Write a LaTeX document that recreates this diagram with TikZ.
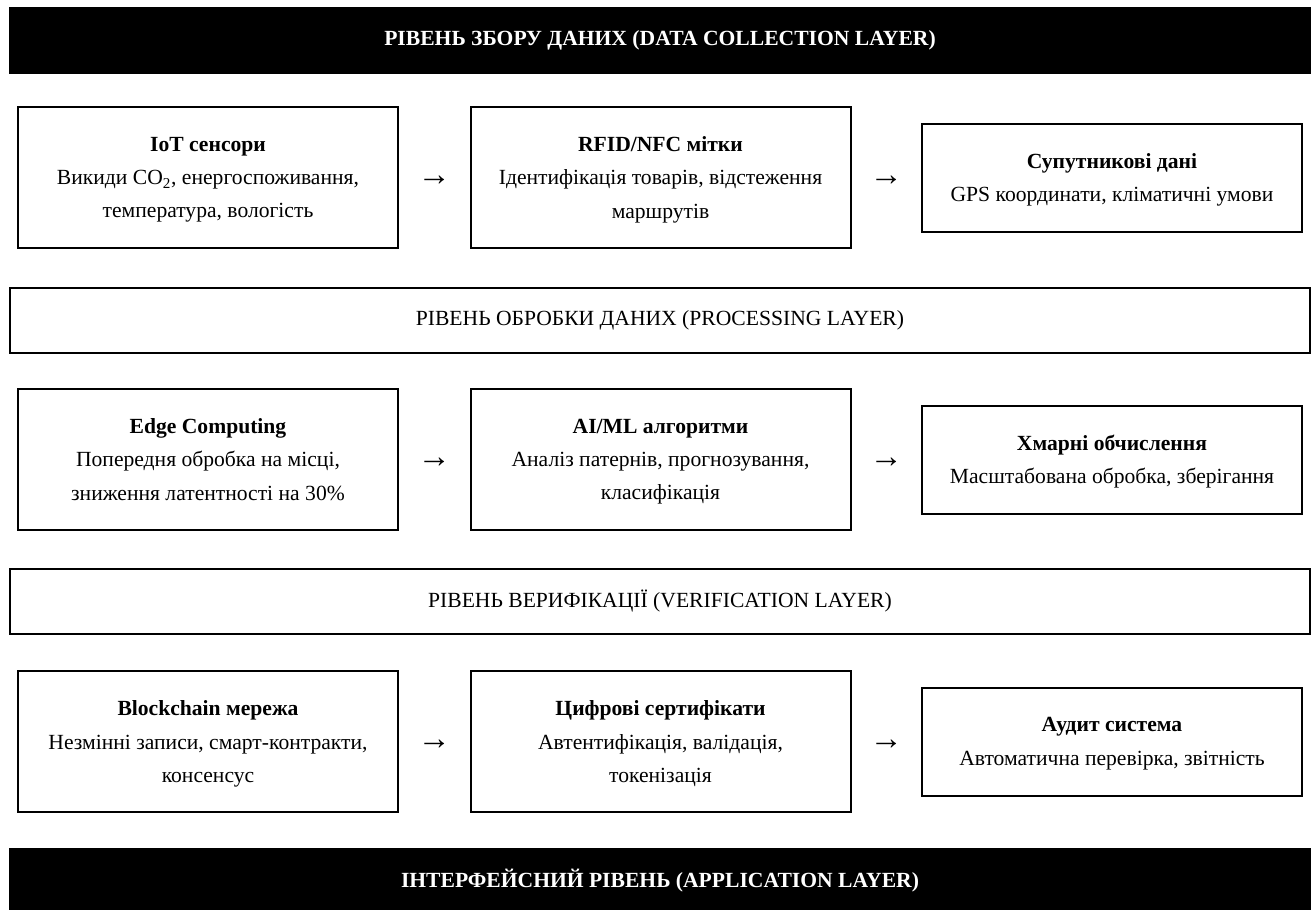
\documentclass[tikz,border=0pt]{standalone}
\usepackage{fontspec}
\setmainfont{Liberation Serif}
\usetikzlibrary{calc}

\begin{document}
\begin{tikzpicture}[x=0.75pt,y=-0.75pt,font=\fontsize{16.2}{25}\selectfont,
  bar/.style={draw,line width=1.5pt,minimum width=975pt,minimum height=48.75pt,inner sep=0pt},
  dark/.style={bar,fill=black,text=white,font=\fontsize{16.2}{25}\selectfont\bfseries},
  box/.style={draw,line width=1.5pt,minimum width=285pt,minimum height=105.75pt,align=center,inner sep=0pt,text depth=-1.5pt},
  low/.style={box,minimum height=81pt}]
\useasboundingbox (0,0) rectangle (1315,910);
\node[dark] at(660,40)(collect){РІВЕНЬ ЗБОРУ ДАНИХ (DATA COLLECTION LAYER)};
\node[box] at(208,177.5)(iot){\textbf{IoT сенсори}\\Викиди CO\textsubscript{2}, енергоспоживання,\\температура, вологість};
\node[box] at(660.5,177.5)(rfid){\textbf{RFID/NFC мітки}\\Ідентифікація товарів, відстеження\\маршрутів};
\node[low] at(1112,177.5)(sat){\textbf{Супутникові дані}\\GPS координати, кліматичні умови};
\node[bar] at(660,320)(process){РІВЕНЬ ОБРОБКИ ДАНИХ (PROCESSING LAYER)};
\node[box] at(208,459.5)(edge){\textbf{Edge Computing}\\Попередня обробка на місці,\\зниження латентності на 30\%};
\node[box] at(660.5,459.5)(ai){\textbf{AI/ML алгоритми}\\Аналіз патернів, прогнозування,\\класифікація};
\node[low] at(1112,459.5)(cloud){\textbf{Хмарні обчислення}\\Масштабована обробка, зберігання};
\node[bar] at(660,601)(verify){РІВЕНЬ ВЕРИФІКАЦІЇ (VERIFICATION LAYER)};
\node[box] at(208,741.5)(chain){\textbf{Blockchain мережа}\\Незмінні записи, смарт-контракти,\\консенсус};
\node[box] at(660.5,741.5)(cert){\textbf{Цифрові сертифікати}\\Автентифікація, валідація,\\токенізація};
\node[low] at(1112,741.5)(audit){\textbf{Аудит система}\\Автоматична перевірка, звітність};
\node[dark] at(660,881)(app){ІНТЕРФЕЙСНИЙ РІВЕНЬ (APPLICATION LAYER)};
\foreach \a/\b in {iot/rfid,rfid/sat,edge/ai,ai/cloud,chain/cert,cert/audit}
  \node[font=\fontsize{25}{25}\selectfont] at($(\a.east)!.5!(\b.west)+(0,3)$){→};
\end{tikzpicture}
\end{document}
